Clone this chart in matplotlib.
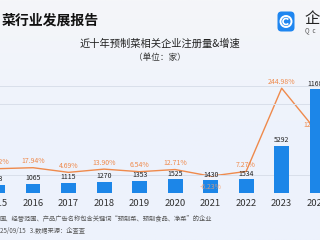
import numpy as np
import matplotlib
matplotlib.use("Agg")
import matplotlib.pyplot as plt
from matplotlib.patches import FancyBboxPatch, Circle, Arc
from matplotlib.colors import LinearSegmentedColormap

plt.rcParams['font.family'] = ['Noto Sans CJK SC', 'DejaVu Sans']

years = ['2015', '2016', '2017', '2018', '2019', '2020', '2021', '2022', '2023', '2024']
counts = [903, 1065, 1115, 1270, 1353, 1525, 1430, 1534, 5292, 11680]
growth = [15.12, 17.94, 4.69, 13.90, 6.54, 12.71, -6.23, 7.27, 244.98, 120.70]
grid_levels = [2000, 10000, 12000]

title = '菜行业发展报告'
subtitle = '近十年预制菜相关企业注册量&增速'
unit = '（单位：家）'
note1 = '围、经营范围、产品广告名称包含关键词“预制菜、预制食品、净菜”的企业'
note2 = '25/09/15   3.数据来源：企查查'

W, H = 320, 240
fig = plt.figure(figsize=(3.2, 2.4), dpi=100)

# background gradient
bg = fig.add_axes([0, 0, 1, 1], zorder=-5)
cmap = LinearSegmentedColormap.from_list('bg', ['#F5F6F9', '#EEF3FC', '#EDF2FC'])
grad = np.linspace(0, 1, 100).reshape(-1, 1)
bg.imshow(grad, aspect='auto', cmap=cmap, extent=[0, 1, 0, 1])
bg.axis('off')

# main axes
ax = fig.add_axes([0, 1 - 193 / H, 1, 130 / H])
ax2 = ax.twinx()
ax.set_zorder(2)
ax2.set_zorder(1)
ax.patch.set_alpha(0)
ax2.patch.set_alpha(0)

x = np.arange(len(years))
ax.bar(x, counts, width=0.42, color='#1C86E8', zorder=3)
ax.set_xlim(0.07, 9.08)
ax.set_ylim(0, 14640)
ax.set_yticks(grid_levels)
ax.yaxis.grid(True, color='#D9DFEA', lw=0.7)
ax.set_axisbelow(True)
ax.tick_params(axis='y', left=False, labelleft=False)
ax.set_xticks([])
for sp in ax.spines.values():
    sp.set_visible(False)
for xi, yr in zip(x, years):
    ax.annotate(yr, (xi, 0), xytext=(0, -4.5), textcoords='offset points',
                ha='center', va='top', fontsize=6.8, color='#333333',
                annotation_clip=False)
for xi, c in zip(x, counts):
    ax.annotate(f'{c}', (xi, c), xytext=(0, 1.2), textcoords='offset points',
                ha='center', va='bottom', fontsize=5, color='#222222', zorder=5,
                annotation_clip=False)

ax2.plot(x, growth, color='#EF8A4C', lw=1.0, clip_on=False)
ax2.set_ylim(-54.3, 317)
ax2.set_xlim(0.07, 9.08)
ax2.axis('off')
for xi, g in zip(x, growth):
    if g < 0:
        ax.annotate(f'{g:.2f}%', (xi, g), xytext=(0, -5), textcoords='offset points',
                    xycoords=ax2.transData, ha='center', va='top', fontsize=5,
                    color='#F2A070', alpha=0.8, zorder=6, annotation_clip=False)
    else:
        ax2.annotate(f'{g:.2f}%', (xi, g), xytext=(0, 1.8), textcoords='offset points',
                     ha='center', va='bottom', fontsize=5, color='#EF8A4C',
                     annotation_clip=False)

# titles
fig.text(2 / W, 1 - 21 / H, title, fontsize=10, fontweight='bold', color='#111111',
         ha='left', va='center')
fig.text(160 / W, 1 - 44 / H, subtitle, fontsize=7.4, color='#222222', ha='center', va='center')
fig.text(160 / W, 1 - 57 / H, unit, fontsize=6.2, color='#333333', ha='center', va='center')

# logo
lax = fig.add_axes([277 / W, 1 - 33 / H, 18 / W, 23 / H])
lax.set_xlim(0, 18)
lax.set_ylim(0, 23)
lax.axis('off')
lax.add_patch(FancyBboxPatch((0.5, 1.5), 17, 20, boxstyle='round,pad=0,rounding_size=4',
                             fc='#1F86F0', ec='none'))
lax.add_patch(Circle((9, 11.5), 5.5, fill=False, ec='white', lw=1.4))
lax.add_patch(Arc((9, 11.5), 6, 6, theta1=40, theta2=320, ec='white', lw=1.2))
fig.text(304 / W, 1 - 19 / H, '企', fontsize=11, color='#222222', ha='left', va='center')
fig.text(305 / W, 1 - 30.5 / H, 'Q  c', fontsize=4.5, color='#555555', ha='left', va='center')

# notes
fig.text(0, 1 - 218 / H, note1, fontsize=4.5, color='#555555', ha='left', va='center')
fig.text(0, 1 - 231 / H, note2, fontsize=4.5, color='#555555', ha='left', va='center')

fig.savefig('out.png', dpi=100)
